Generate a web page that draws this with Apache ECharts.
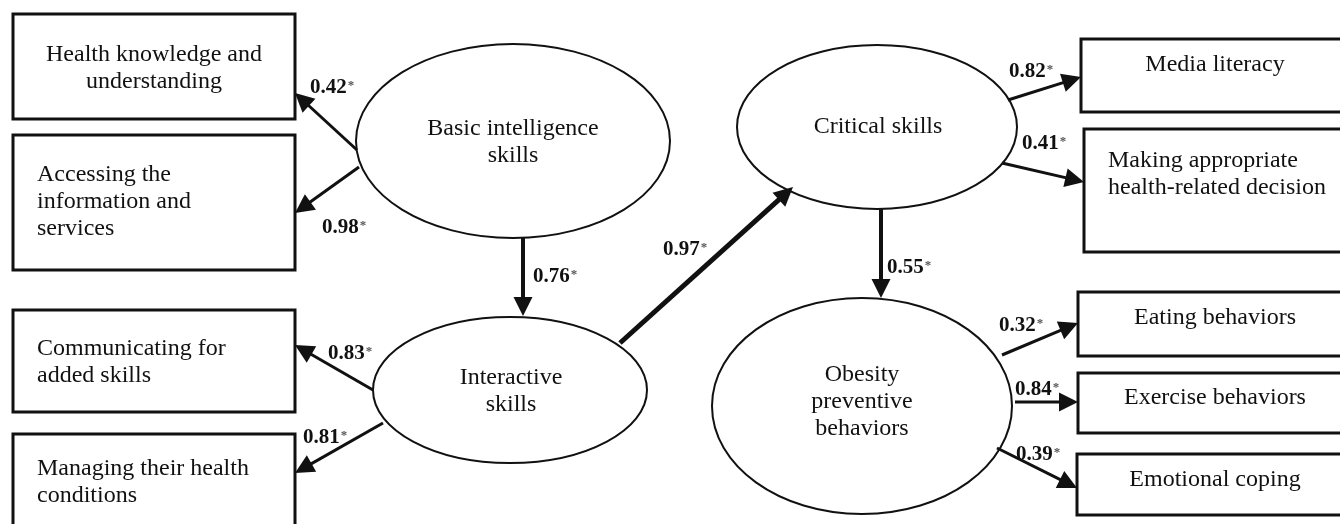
<!DOCTYPE html>
<html>
<head>
<meta charset="utf-8">
<script src="https://cdn.jsdelivr.net/npm/echarts@6/dist/echarts.min.js"></script>
<style>
  html, body { margin: 0; padding: 0; background: #fff; }
  #chart { width: 1340px; height: 524px; }
</style>
</head>
<body>
<div id="chart"></div>
<script>
// latent constructs (drawn as ellipses)
const latentNames = [
  'Basic intelligence\nskills',
  'Interactive\nskills',
  'Critical skills',
  'Obesity\npreventive\nbehaviors'
];

// observed indicators (drawn as boxes)
const indicatorNames = [
  'Health knowledge and\nunderstanding',
  'Accessing the\ninformation and\nservices',
  'Communicating for\nadded skills',
  'Managing their health\nconditions',
  'Media literacy',
  'Making appropriate\nhealth-related decision',
  'Eating behaviors',
  'Exercise behaviors',
  'Emotional coping'
];

// standardized path coefficients (all significant, marked *)
const pathLabels = ['0.42', '0.98', '0.76', '0.83', '0.81', '0.97', '0.82', '0.41', '0.55', '0.32', '0.84', '0.39'];

// ---- layout (diagram units = pixels of the 1340x524 canvas) ----
// ellipse: cx, cy, rx, ry, textX, textY
const latentLayout = [
  [513, 141, 157, 97, 513, 142],
  [510, 390, 137, 73, 511, 391],
  [877, 127, 140, 82, 878, 127],
  [862, 406, 150, 108, 862, 402]
];
// box: x0, y0, x1, y1, textX, textY, align
const indicatorLayout = [
  [13, 14, 295, 119, 154, 68, 'center'],
  [13, 135, 295, 270, 37, 202, 'left'],
  [13, 310, 295, 412, 37, 362, 'left'],
  [13, 434, 295, 540, 37, 482, 'left'],
  [1081, 39, 1350, 112, 1215, 65, 'center'],
  [1084, 129, 1350, 252, 1108, 174, 'left'],
  [1078, 292, 1350, 356, 1215, 318, 'center'],
  [1078, 373, 1350, 433, 1215, 398, 'center'],
  [1077, 454, 1350, 515, 1215, 480, 'center']
];
// arrow: x1, y1, x2(tip), y2(tip), labelX, labelY, lineWidth
const pathLayout = [
  [357, 150, 295, 93, 310, 88, 3],
  [359, 167, 295, 213, 322, 228, 3],
  [523, 238, 523, 316, 533, 277, 4],
  [373, 390, 295, 345, 328, 354, 3],
  [383, 423, 295, 473, 303, 438, 3],
  [620, 343, 793, 187, 663, 250, 5],
  [1008, 100, 1081, 77, 1009, 72, 3],
  [1002, 163, 1084, 182, 1022, 144, 3],
  [881, 208, 881, 298, 887, 268, 4],
  [1002, 355, 1078, 323, 999, 326, 3],
  [1015, 402, 1078, 402, 1015, 390, 3],
  [997, 448, 1077, 488, 1016, 455, 3]
];

const FONT = '"Liberation Serif", "Times New Roman", serif';
const INK = '#111';

const chart = echarts.init(document.getElementById('chart'));

const option = {
  backgroundColor: '#fff',
  animation: false,
  grid: { left: 0, right: 0, top: 0, bottom: 0 },
  xAxis: { type: 'value', min: 0, max: 1340, show: false },
  yAxis: { type: 'value', min: 0, max: 524, inverse: true, show: false },
  series: [
    {
      // indicator boxes
      type: 'custom',
      silent: true,
      data: indicatorLayout.map((l, i) => ({ value: l.slice(0, 6), name: indicatorNames[i] })),
      renderItem(params, api) {
        const i = params.dataIndex;
        const p0 = api.coord([api.value(0), api.value(1)]);
        const p1 = api.coord([api.value(2), api.value(3)]);
        const t = api.coord([api.value(4), api.value(5)]);
        return {
          type: 'group',
          children: [
            {
              type: 'rect',
              shape: { x: p0[0], y: p0[1], width: p1[0] - p0[0], height: p1[1] - p0[1] },
              style: { fill: '#fff', stroke: INK, lineWidth: 3 }
            },
            {
              type: 'text',
              style: {
                text: indicatorNames[i],
                x: t[0], y: t[1],
                align: indicatorLayout[i][6],
                verticalAlign: 'middle',
                fontFamily: FONT, fontSize: 24, lineHeight: 27,
                fill: INK
              }
            }
          ]
        };
      }
    },
    {
      // latent ellipses
      type: 'custom',
      silent: true,
      data: latentLayout.map((l, i) => ({ value: l, name: latentNames[i] })),
      renderItem(params, api) {
        const i = params.dataIndex;
        const c = api.coord([api.value(0), api.value(1)]);
        const e = api.coord([api.value(0) + api.value(2), api.value(1) + api.value(3)]);
        const t = api.coord([api.value(4), api.value(5)]);
        return {
          type: 'group',
          children: [
            {
              type: 'ellipse',
              shape: { cx: c[0], cy: c[1], rx: e[0] - c[0], ry: e[1] - c[1] },
              style: { fill: '#fff', stroke: INK, lineWidth: 2 }
            },
            {
              type: 'text',
              style: {
                text: latentNames[i],
                x: t[0], y: t[1],
                align: 'center',
                verticalAlign: 'middle',
                fontFamily: FONT, fontSize: 24, lineHeight: 27,
                fill: INK
              }
            }
          ]
        };
      }
    },
    {
      // paths with coefficients
      type: 'custom',
      silent: true,
      data: pathLayout.map((l, i) => ({ value: l, name: pathLabels[i] })),
      renderItem(params, api) {
        const i = params.dataIndex;
        const a = api.coord([api.value(0), api.value(1)]);
        const b = api.coord([api.value(2), api.value(3)]);
        const lab = api.coord([api.value(4), api.value(5)]);
        const w = api.value(6);
        const dx = b[0] - a[0], dy = b[1] - a[1];
        const len = Math.sqrt(dx * dx + dy * dy);
        const ux = dx / len, uy = dy / len;
        const headLen = 19, headHalf = 9.5;
        const bx = b[0] - ux * headLen, by = b[1] - uy * headLen;
        return {
          type: 'group',
          children: [
            {
              type: 'line',
              shape: { x1: a[0], y1: a[1], x2: bx + ux * 2, y2: by + uy * 2 },
              style: { stroke: INK, lineWidth: w }
            },
            {
              type: 'polygon',
              shape: {
                points: [
                  [b[0], b[1]],
                  [bx - uy * headHalf, by + ux * headHalf],
                  [bx + uy * headHalf, by - ux * headHalf]
                ]
              },
              style: { fill: INK }
            },
            {
              type: 'text',
              style: {
                text: '{v|' + pathLabels[i] + '}{s|*}',
                x: lab[0], y: lab[1],
                align: 'left',
                verticalAlign: 'middle',
                rich: {
                  v: { fontFamily: FONT, fontSize: 21, fontWeight: 'bold', fill: INK, color: INK },
                  s: { fontFamily: FONT, fontSize: 13, fontWeight: 'bold', fill: '#555', color: '#555', padding: [0, 0, 4, 1] }
                }
              }
            }
          ]
        };
      }
    }
  ]
};

chart.setOption(option);
window.addEventListener('resize', () => chart.resize());
</script>
</body>
</html>
